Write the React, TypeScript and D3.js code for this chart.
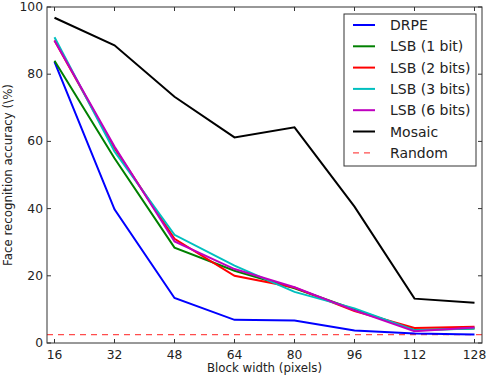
import React from "react";
import * as d3 from "d3";

const blockWidths = [16, 32, 48, 64, 80, 96, 112, 128];
const drpe = [83.7, 39.8, 13.4, 6.9, 6.7, 3.7, 2.8, 2.5];
const lsb1 = [84.0, 55.0, 28.4, 21.5, 16.3, 10.0, 3.9, 4.3];
const lsb2 = [90.0, 58.0, 31.0, 20.0, 16.5, 9.5, 4.5, 4.8];
const lsb3 = [91.0, 57.0, 32.2, 23.0, 15.2, 10.3, 3.8, 4.3];
const lsb6 = [90.0, 58.5, 30.2, 22.0, 16.6, 9.7, 3.5, 4.6];
const mosaic = [96.8, 88.6, 73.3, 61.2, 64.2, 40.6, 13.2, 12.0];
const randomLevel = 2.5;

const seriesNames = ["DRPE", "LSB (1 bit)", "LSB (2 bits)", "LSB (3 bits)", "LSB (6 bits)", "Mosaic"];
const seriesColors = ["#0000ff", "#008000", "#ff0000", "#00bfbf", "#bf00bf", "#000000"];
const seriesValues = [drpe, lsb1, lsb2, lsb3, lsb6, mosaic];
const yTicks = [0, 20, 40, 60, 80, 100];

const W = 490;
const H = 376;
const m = { left: 47, right: 8, top: 7, bottom: 33 };

export default function App() {
  const x = d3.scaleLinear().domain([14, 130]).range([m.left, W - m.right]);
  const y = d3.scaleLinear().domain([0, 100]).range([H - m.bottom, m.top]);
  const line = d3
    .line<number>()
    .x((_, i) => x(blockWidths[i]))
    .y((d) => y(d));
  const font = "DejaVu Sans, sans-serif";
  const x0 = m.left, x1 = W - m.right, y0 = H - m.bottom, y1 = m.top;
  const legX = 344, legY = 14, legW = 132, legH = 152, rowH = 21.3;
  const legendItems = [...seriesNames, "Random"];
  const legendColors = [...seriesColors, "#ff0000"];

  return (
    <svg width={W} height={H} style={{ position: "absolute", left: 0, top: 0, background: "#fff" }}>
      <defs>
        <clipPath id="plot">
          <rect x={x0} y={y1} width={x1 - x0} height={y0 - y1} />
        </clipPath>
      </defs>
      <g clipPath="url(#plot)">
        <line x1={x0} x2={x1} y1={y(randomLevel)} y2={y(randomLevel)} stroke="#ff0000" strokeOpacity={0.7} strokeWidth={1.3} strokeDasharray="6,5" />
        {seriesValues.map((vals, i) => (
          <path key={seriesNames[i]} d={line(vals) ?? ""} fill="none" stroke={seriesColors[i]} strokeWidth={2} strokeLinejoin="miter" />
        ))}
      </g>
      <rect x={x0} y={y1} width={x1 - x0} height={y0 - y1} fill="none" stroke="#333" strokeWidth={1} />
      {blockWidths.map((t) => (
        <g key={t}>
          <line x1={x(t)} x2={x(t)} y1={y0} y2={y0 - 4} stroke="#333" />
          <line x1={x(t)} x2={x(t)} y1={y1} y2={y1 + 4} stroke="#333" />
          <text x={x(t)} y={y0 + 16} textAnchor="middle" fontFamily={font} fontSize={12.3} fill="#222">{t}</text>
        </g>
      ))}
      {yTicks.map((t) => (
        <g key={t}>
          <line x1={x0} x2={x0 + 4} y1={y(t)} y2={y(t)} stroke="#333" />
          <line x1={x1} x2={x1 - 4} y1={y(t)} y2={y(t)} stroke="#333" />
          <text x={x0 - 4} y={y(t) + 4} textAnchor="end" fontFamily={font} fontSize={12.3} fill="#222">{t}</text>
        </g>
      ))}
      <text x={(x0 + x1) / 2} y={372} textAnchor="middle" fontFamily={font} fontSize={11.8} fill="#222">Block width (pixels)</text>
      <text transform={`translate(12,${(y0 + y1) / 2}) rotate(-90)`} textAnchor="middle" fontFamily={font} fontSize={11.8} fill="#222">{"Face recognition accuracy (\\%)"}</text>
      <rect x={legX} y={legY} width={legW} height={legH} fill="#fff" stroke="#333" strokeWidth={1} />
      {legendItems.map((name, i) => {
        const ly = legY + 11 + i * rowH;
        return (
          <g key={name}>
            <line x1={legX + 9} x2={legX + 31} y1={ly} y2={ly} stroke={legendColors[i]} strokeWidth={name === "Random" ? 1.3 : 2} strokeOpacity={name === "Random" ? 0.7 : 1} strokeDasharray={name === "Random" ? "6,5" : undefined} />
            <text x={legX + 46} y={ly + 5} fontFamily={font} fontSize={14} fill="#222">{name}</text>
          </g>
        );
      })}
    </svg>
  );
}
